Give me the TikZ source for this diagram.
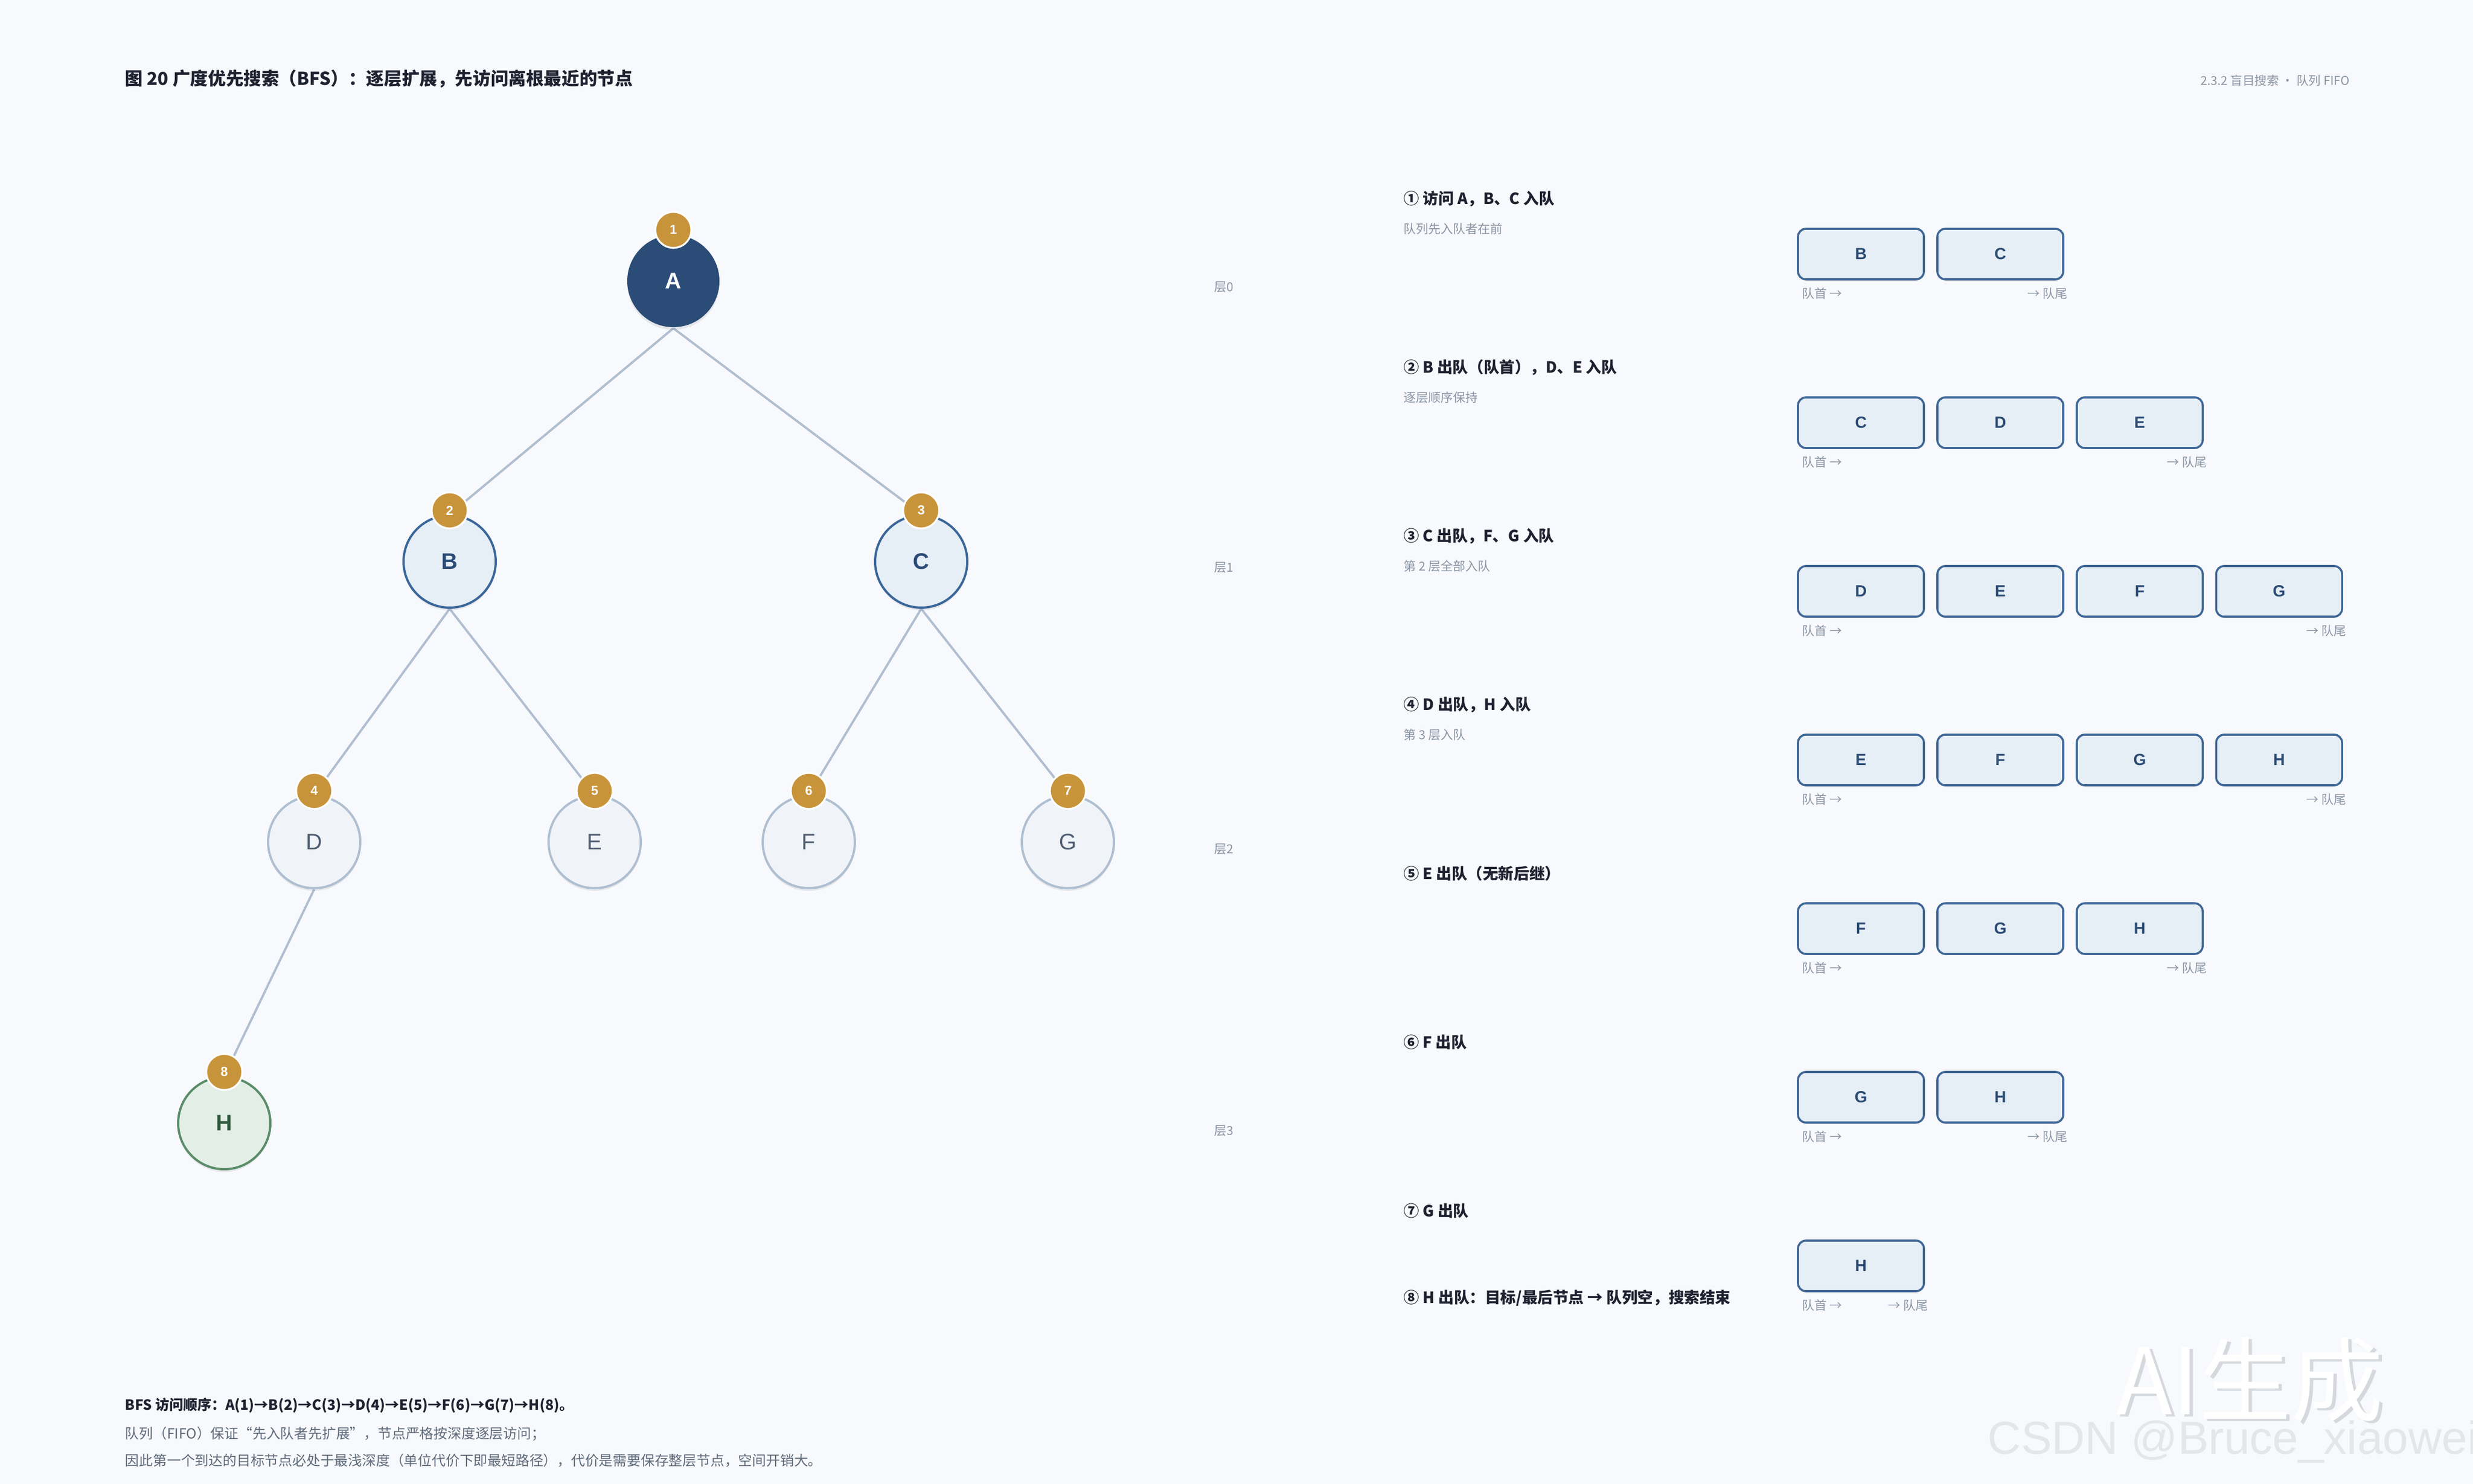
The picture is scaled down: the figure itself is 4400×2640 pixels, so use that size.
\documentclass[tikz,border=0pt]{standalone}
\usepackage{fontspec}
\setmainfont{Noto Sans CJK SC}
\newfontfamily\wmfont{Liberation Sans}
\newfontfamily\latfont{Liberation Sans}
\usetikzlibrary{shadows}
\definecolor{bgc}{HTML}{F7F9FC}
\definecolor{ink}{HTML}{1E2230}
\definecolor{graytx}{HTML}{8B95A5}
\definecolor{midtx}{HTML}{5F6B7B}
\definecolor{navy}{HTML}{2B4C77}
\definecolor{bbd}{HTML}{3A6699}
\definecolor{bfl}{HTML}{E6EEF6}
\definecolor{dbd}{HTML}{AFBFD1}
\definecolor{dfl}{HTML}{F0F4F9}
\definecolor{dtx}{HTML}{4F5D70}
\definecolor{hbd}{HTML}{5B8C69}
\definecolor{hfl}{HTML}{E3EFE6}
\definecolor{htx}{HTML}{2F5B3D}
\definecolor{gold}{HTML}{C8943B}
\definecolor{edgec}{HTML}{B0BED0}
\definecolor{qbd}{HTML}{3E6696}
\definecolor{qfl}{HTML}{E6EEF6}
\definecolor{qtx}{HTML}{2A4A73}
\definecolor{wmline}{HTML}{D5D8DD}
\definecolor{wmtx}{HTML}{E4E6EA}
\newcommand\myfs[1]{\fontsize{#1}{#1}\selectfont}
\pgfdeclarelayer{bglayer}
\pgfsetlayers{bglayer,main}
\begin{document}
\begin{tikzpicture}[x=0.25pt,y=-0.25pt,
  tnode/.style={circle, minimum size=41pt, inner sep=0pt, line width=1pt,
    drop shadow={shadow xshift=0pt, shadow yshift=-1.2pt, opacity=0.07, fill=black}},
  rootnode/.style={tnode, fill=navy, text=white, font=\latfont\myfs{10}\bfseries},
  lvone/.style={tnode, draw=bbd, fill=bfl, text=navy, font=\latfont\myfs{10}\bfseries},
  lvtwo/.style={tnode, draw=dbd, fill=dfl, text=dtx, font=\latfont\myfs{10}},
  goalnode/.style={tnode, draw=hbd, fill=hfl, text=htx, font=\latfont\myfs{10}\bfseries},
  badge/.style={circle, minimum size=16pt, inner sep=0pt, fill=gold, draw=white,
    line width=0.8pt, text=white, font=\latfont\myfs{5.8}\bfseries},
  edge/.style={draw=edgec, line width=1pt},
  qbox/.style={rectangle, rounded corners=3.5pt, minimum width=56pt, minimum height=22.5pt,
    draw=qbd, fill=qfl, line width=0.9pt, text=qtx, font=\latfont\myfs{7.2}\bfseries, inner sep=0pt},
  qlab/.style={text=graytx, font=\myfs{5.5}, inner sep=0pt},
  steptitle/.style={anchor=west, text=ink, font=\myfs{6.9}\bfseries, inner sep=0pt},
  stepsub/.style={anchor=west, text=graytx, font=\myfs{5.5}, inner sep=0pt},
  layerlab/.style={anchor=west, text=graytx, font=\myfs{5.5}, inner sep=0pt}
]
\begin{pgfonlayer}{bglayer}
\fill[bgc] (0,0) rectangle (4400,2640);
\end{pgfonlayer}
\useasboundingbox (0,0) rectangle (4400,2640);

% header
\node[anchor=west, text=ink, font=\myfs{7.9}\bfseries, inner sep=0pt] (title) at (222,140)
  {图 20 广度优先搜索（BFS）：逐层扩展，先访问离根最近的节点};
\node[anchor=east, text=graytx, font=\myfs{5.4}, inner sep=0pt] (sect) at (4181,143)
  {2.3.2 盲目搜索 · 队列 FIFO};

% tree nodes
\node[rootnode] (A) at (1198,500) {A};
\node[lvone] (B) at (800,999) {B};
\node[lvone] (C) at (1639,999) {C};
\node[lvtwo] (D) at (559,1498) {D};
\node[lvtwo] (E) at (1058,1498) {E};
\node[lvtwo] (F) at (1439,1498) {F};
\node[lvtwo] (G) at (1900,1498) {G};
\node[goalnode] (H) at (399,1998) {H};

\begin{pgfonlayer}{bglayer}
\draw[edge] (A.south) -- (B.north);
\draw[edge] (A.south) -- (C.north);
\draw[edge] (B.south) -- (D.north);
\draw[edge] (B.south) -- (E.north);
\draw[edge] (C.south) -- (F.north);
\draw[edge] (C.south) -- (G.north);
\draw[edge] (D.south) -- (H.north);
\end{pgfonlayer}

% badges
\node[badge] (bA) at (1198,409) {1};
\node[badge] (bB) at (800,908) {2};
\node[badge] (bC) at (1639,908) {3};
\node[badge] (bD) at (559,1407) {4};
\node[badge] (bE) at (1058,1407) {5};
\node[badge] (bF) at (1439,1407) {6};
\node[badge] (bG) at (1900,1407) {7};
\node[badge] (bH) at (399,1907) {8};

% layer labels
\node[layerlab] (L0) at (2160,511) {层0};
\node[layerlab] (L1) at (2160,1010) {层1};
\node[layerlab] (L2) at (2160,1511) {层2};
\node[layerlab] (L3) at (2160,2012) {层3};

% steps
\node[steptitle] (s1) at (2497,354) {① 访问 A，B、C 入队};
\node[stepsub] (u1) at (2497,407) {队列先入队者在前};
\node[steptitle] (s2) at (2497,654) {② B 出队（队首），D、E 入队};
\node[stepsub] (u2) at (2497,707) {逐层顺序保持};
\node[steptitle] (s3) at (2497,954) {③ C 出队，F、G 入队};
\node[stepsub] (u3) at (2497,1007) {第 2 层全部入队};
\node[steptitle] (s4) at (2497,1254) {④ D 出队，H 入队};
\node[stepsub] (u4) at (2497,1307) {第 3 层入队};
\node[steptitle] (s5) at (2497,1554) {⑤ E 出队（无新后继）};
\node[steptitle] (s6) at (2497,1854) {⑥ F 出队};
\node[steptitle] (s7) at (2497,2154) {⑦ G 出队};
\node[steptitle] (s8) at (2497,2309) {⑧ H 出队：目标/最后节点 → 队列空，搜索结束};

% queues
\foreach \i/\lst/\n in {1/{B,C}/2, 2/{C,D,E}/3, 3/{D,E,F,G}/4, 4/{E,F,G,H}/4,
                        5/{F,G,H}/3, 6/{G,H}/2, 7/{H}/1} {
  \pgfmathsetmacro\yy{452+300*(\i-1)}
  \pgfmathsetmacro\yl{522+300*(\i-1)}
  \pgfmathsetmacro\xt{3311+248*(\n-1)+120}
  \foreach \L [count=\k] in \lst {
    \pgfmathsetmacro\xx{3311+248*(\k-1)}
    \node[qbox] (q\i-\k) at (\xx,\yy) {\L};
  }
  \node[qlab, anchor=west] (head\i) at (3206,\yl) {队首 →};
  \node[qlab, anchor=east] (tail\i) at (\xt,\yl) {→ 队尾};
}

% footer
\node[anchor=west, text=ink, font=\myfs{6.25}\bfseries, inner sep=0pt] (f1) at (222,2500)
  {BFS 访问顺序：A(1)→B(2)→C(3)→D(4)→E(5)→F(6)→G(7)→H(8)。};
\node[anchor=west, text=midtx, font=\myfs{6.2}, inner sep=0pt] (f2) at (222,2551)
  {队列（FIFO）保证“先入队者先扩展”，节点严格按深度逐层访问；};
\node[anchor=west, text=midtx, font=\myfs{6.2}, inner sep=0pt] (f3) at (222,2598)
  {因此第一个到达的目标节点必处于最浅深度（单位代价下即最短路径），代价是需要保存整层节点，空间开销大。};

% watermark
\node[text=wmline, font=\myfs{41}, inner sep=0pt] (wm1s) at (4009,2459) {AI生成};
\node[text=white, font=\myfs{41}, inner sep=0pt] (wm1) at (4003,2455) {AI生成};
\node[anchor=west, text=wmtx, font=\wmfont\myfs{20.5}, inner sep=0pt] (wm2) at (3536,2565) {CSDN @Bruce\_xiaowei};
\end{tikzpicture}
\end{document}
